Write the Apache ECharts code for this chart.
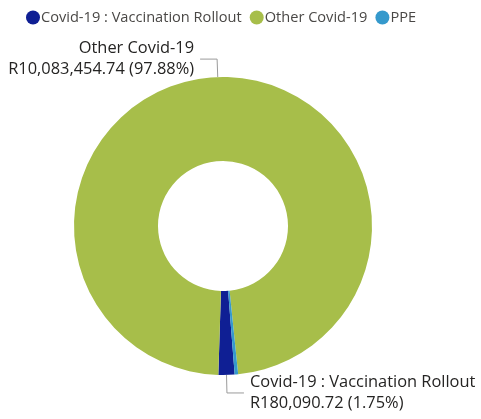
<!DOCTYPE html>
<html>
<head>
<meta charset="utf-8">
<script src="https://cdn.jsdelivr.net/npm/echarts@6/dist/echarts.min.js"></script>
<style>
html,body{margin:0;padding:0;background:#fff;}
#chart{width:481px;height:419px;}
</style>
</head>
<body>
<div id="chart"></div>
<script>
const categories = ['Covid-19 : Vaccination Rollout', 'Other Covid-19', 'PPE'];
const values = [180090.72, 10083454.74, 38308.56];
const colors = ['#0F1F94', '#A7BE4A', '#3599CC'];
const showLabel = [true, true, false];

function fmtMoney(v) {
  return 'R' + v.toLocaleString('en-US', {minimumFractionDigits: 2, maximumFractionDigits: 2});
}

const chart = echarts.init(document.getElementById('chart'), null, {renderer: 'canvas'});
const font = 'Open Sans';
chart.setOption({
  animation: false,
  legend: {
    left: 21,
    top: 5,
    icon: 'circle',
    itemWidth: 14,
    itemHeight: 14,
    itemGap: 8,
    textStyle: {fontFamily: font, fontSize: 14.6, color: '#4A4846', padding: [0, 0, 0, -4]},
    data: categories
  },
  series: [{
    type: 'pie',
    center: [223, 226],
    radius: [65, 149],
    startAngle: -85.5,
    clockwise: true,
    avoidLabelOverlap: false,
    label: {
      show: true,
      position: 'outside',
      fontFamily: font,
      fontSize: 16.4,
      lineHeight: 21,
      color: '#252423',
      distanceToLabelLine: 6,
      formatter: p => p.name + '\n' + fmtMoney(p.value) + ' (' + p.percent.toFixed(2) + '%)'
    },
    labelLine: {
      show: true,
      length: 18,
      length2: 17,
      lineStyle: {color: '#9A9A9A', width: 1}
    },
    emphasis: {disabled: true},
    data: categories.map((c, i) => ({
      name: c,
      value: values[i],
      itemStyle: {color: colors[i]},
      label: {show: showLabel[i]},
      labelLine: {show: showLabel[i]}
    }))
  }]
});
</script>
</body>
</html>
